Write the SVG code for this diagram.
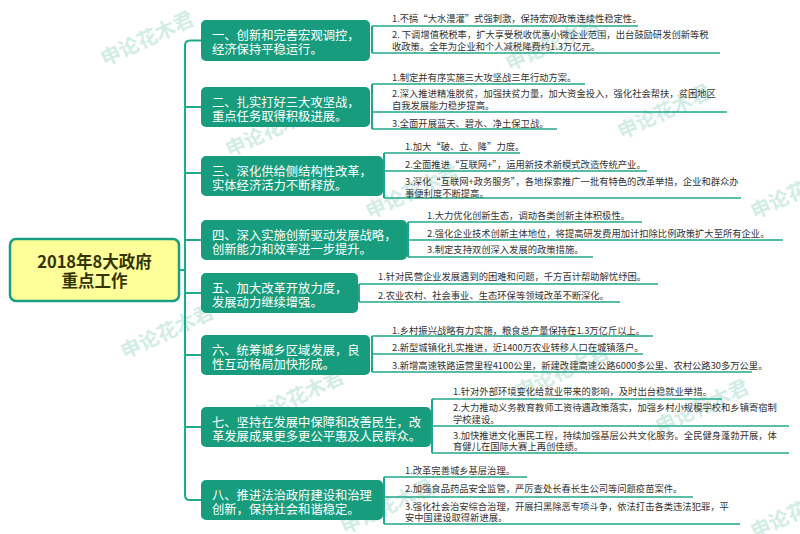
<svg xmlns="http://www.w3.org/2000/svg" width="800" height="534" viewBox="0 0 800 534">
<style>
.wm{font-family:"Noto Sans CJK SC","Noto Sans",sans-serif;font-size:20px;font-weight:bold;fill:#7fcdb8;opacity:0.35}
.node rect{fill:#179d7e}
.node text{font-family:"Noto Sans CJK SC","Noto Sans",sans-serif;font-size:12.3px;fill:#ffffff}
.root rect{fill:#ffff99;stroke:#1a9e80;stroke-width:2.5}
.root text{font-family:"Noto Sans CJK SC","Noto Sans",sans-serif;font-size:16.5px;font-weight:bold;fill:#333300;text-anchor:middle}
.leaf text{font-family:"Noto Sans CJK SC","Noto Sans",sans-serif;font-size:9.3px;fill:#333333}
.conn path,.conn line{fill:none;stroke:#22a88a;stroke-width:2}
.ul{fill:none;stroke:#22a88a;stroke-width:1.6}
</style>
<rect width="800" height="534" fill="#ffffff"/>
<g id="watermarks">
<text class="wm" transform="translate(150,45) rotate(-25)" text-anchor="middle">申论花木君</text>
<text class="wm" transform="translate(555,50) rotate(-25)" text-anchor="middle">申论花木君</text>
<text class="wm" transform="translate(667,118) rotate(-25)" text-anchor="middle">申论花木君</text>
<text class="wm" transform="translate(275,136) rotate(-25)" text-anchor="middle">申论花木君</text>
<text class="wm" transform="translate(415,198) rotate(-25)" text-anchor="middle">申论花木君</text>
<text class="wm" transform="translate(800,198) rotate(-25)" text-anchor="middle">申论花木君</text>
<text class="wm" transform="translate(170,338) rotate(-25)" text-anchor="middle">申论花木君</text>
<text class="wm" transform="translate(300,403) rotate(-25)" text-anchor="middle">申论花木君</text>
<text class="wm" transform="translate(565,378) rotate(-25)" text-anchor="middle">申论花木君</text>
<text class="wm" transform="translate(705,413) rotate(-25)" text-anchor="middle">申论花木君</text>
<text class="wm" transform="translate(390,513) rotate(-25)" text-anchor="middle">申论花木君</text>
<text class="wm" transform="translate(800,518) rotate(-25)" text-anchor="middle">申论花木君</text>
</g>
<g id="connectors" class="conn">
<line x1="179" y1="270" x2="185" y2="270"/>
<path d="M201,40.5 H190 Q185,40.5 185,45.5 V495 Q185,500 190,500 H201"/>
<line x1="185" y1="107" x2="201" y2="107"/>
<line x1="185" y1="173" x2="201" y2="173"/>
<line x1="185" y1="240" x2="201" y2="240"/>
<line x1="185" y1="293" x2="201" y2="293"/>
<line x1="185" y1="355" x2="201" y2="355"/>
<line x1="185" y1="427" x2="201" y2="427"/>
<line x1="372" y1="26" x2="372" y2="53"/>
<line x1="372" y1="84" x2="372" y2="129"/>
<line x1="384" y1="153" x2="384" y2="198"/>
<line x1="408" y1="222" x2="408" y2="257"/>
<line x1="359" y1="284" x2="359" y2="302"/>
<line x1="372" y1="336" x2="372" y2="372"/>
<line x1="432" y1="399" x2="432" y2="453"/>
<line x1="384" y1="477" x2="384" y2="524"/>
</g>
<g id="root" class="root">
<rect x="10" y="239" width="169" height="62" rx="6"/>
<text x="94.5" y="268">2018年8大政府</text>
<text x="94.5" y="287">重点工作</text>
</g>
<g id="n1" class="node"><rect x="201" y="20" width="169" height="41" rx="5"/><text x="212" y="39.5">一、创新和完善宏观调控，</text><text x="212" y="53.5">经济保持平稳运行。</text></g>
<g id="n2" class="node"><rect x="201" y="87" width="169" height="40" rx="5"/><text x="212" y="106.5">二、扎实打好三大攻坚战，</text><text x="212" y="120.5">重点任务取得积极进展。</text></g>
<g id="n3" class="node"><rect x="201" y="156" width="182" height="40" rx="5"/><text x="212" y="175.5">三、深化供给侧结构性改革，</text><text x="212" y="189.5">实体经济活力不断释放。</text></g>
<g id="n4" class="node"><rect x="201" y="220" width="206" height="40" rx="5"/><text x="212" y="239.5">四、深入实施创新驱动发展战略，</text><text x="212" y="253.5">创新能力和效率进一步提升。</text></g>
<g id="n5" class="node"><rect x="201" y="273" width="157" height="40" rx="5"/><text x="212" y="292.5">五、加大改革开放力度，</text><text x="212" y="306.5">发展动力继续增强。</text></g>
<g id="n6" class="node"><rect x="201" y="335" width="169" height="40" rx="5"/><text x="212" y="354.5">六、统筹城乡区域发展，良</text><text x="212" y="368.5">性互动格局加快形成。</text></g>
<g id="n7" class="node"><rect x="201" y="407" width="230" height="40" rx="5"/><text x="212" y="426.5">七、坚持在发展中保障和改善民生，改</text><text x="212" y="440.5">革发展成果更多更公平惠及人民群众。</text></g>
<g id="n8" class="node"><rect x="201" y="480" width="182" height="40" rx="5"/><text x="212" y="499.5">八、推进法治政府建设和治理</text><text x="212" y="513.5">创新，保持社会和谐稳定。</text></g>
<g id="leaves1" class="leaf">
<line class="ul" x1="372" y1="26" x2="638" y2="26"/><text x="392" y="21.5">1.不搞“大水漫灌”式强刺激，保持宏观政策连续性稳定性。</text>
<line class="ul" x1="372" y1="53" x2="720" y2="53"/><text x="392" y="38">2. 下调增值税税率，扩大享受税收优惠小微企业范围，出台鼓励研发创新等税</text><text x="392" y="49.5">收政策。全年为企业和个人减税降费约1.3万亿元。</text>
</g>
<g id="leaves2" class="leaf">
<line class="ul" x1="372" y1="84" x2="585" y2="84"/><text x="392" y="80.5">1.制定并有序实施三大攻坚战三年行动方案。</text>
<line class="ul" x1="372" y1="112" x2="727" y2="112"/><text x="392" y="97">2.深入推进精准脱贫，加强扶贫力量，加大资金投入，强化社会帮扶，贫困地区</text><text x="392" y="108.5">自我发展能力稳步提高。</text>
<line class="ul" x1="372" y1="129" x2="557" y2="129"/><text x="392" y="126.5">3.全面开展蓝天、碧水、净土保卫战。</text>
</g>
<g id="leaves3" class="leaf">
<line class="ul" x1="384" y1="153" x2="520" y2="153"/><text x="405" y="149.5">1.加大“破、立、降”力度。</text>
<line class="ul" x1="384" y1="171" x2="647" y2="171"/><text x="405" y="167.5">2.全面推进“互联网+”，运用新技术新模式改造传统产业。</text>
<line class="ul" x1="384" y1="198" x2="741" y2="198"/><text x="405" y="185">3.深化“互联网+政务服务”，各地探索推广一批有特色的改革举措，企业和群众办</text><text x="405" y="196.5">事便利度不断提高。</text>
</g>
<g id="leaves4" class="leaf">
<line class="ul" x1="408" y1="222" x2="642" y2="222"/><text x="427" y="218.5">1.大力优化创新生态，调动各类创新主体积极性。</text>
<line class="ul" x1="408" y1="240" x2="783" y2="240"/><text x="427" y="236.5">2.强化企业技术创新主体地位，将提高研发费用加计扣除比例政策扩大至所有企业。</text>
<line class="ul" x1="408" y1="257" x2="593" y2="257"/><text x="427" y="253">3.制定支持双创深入发展的政策措施。</text>
</g>
<g id="leaves5" class="leaf">
<line class="ul" x1="359" y1="284" x2="658" y2="284"/><text x="378" y="279.5">1.针对民营企业发展遇到的困难和问题，千方百计帮助解忧纾困。</text>
<line class="ul" x1="359" y1="302" x2="620" y2="302"/><text x="378" y="298.5">2.农业农村、社会事业、生态环保等领域改革不断深化。</text>
</g>
<g id="leaves6" class="leaf">
<line class="ul" x1="372" y1="336" x2="653" y2="336"/><text x="392" y="333.5">1.乡村振兴战略有力实施，粮食总产量保持在1.3万亿斤以上。</text>
<line class="ul" x1="372" y1="354" x2="643" y2="354"/><text x="392" y="350.5">2.新型城镇化扎实推进，近1400万农业转移人口在城镇落户。</text>
<line class="ul" x1="372" y1="372" x2="752" y2="372"/><text x="392" y="368.5">3.新增高速铁路运营里程4100公里，新建改建高速公路6000多公里、农村公路30多万公里。</text>
</g>
<g id="leaves7" class="leaf">
<line class="ul" x1="432" y1="399" x2="722" y2="399"/><text x="453" y="394.5">1.针对外部环境变化给就业带来的影响，及时出台稳就业举措。</text>
<line class="ul" x1="432" y1="426" x2="789" y2="426"/><text x="453" y="411">2.大力推动义务教育教师工资待遇政策落实，加强乡村小规模学校和乡镇寄宿制</text><text x="453" y="422.5">学校建设。</text>
<line class="ul" x1="432" y1="453" x2="789" y2="453"/><text x="453" y="438.5">3.加快推进文化惠民工程，持续加强基层公共文化服务。全民健身蓬勃开展，体</text><text x="453" y="450">育健儿在国际大赛上再创佳绩。</text>
</g>
<g id="leaves8" class="leaf">
<line class="ul" x1="384" y1="477" x2="527" y2="477"/><text x="405" y="473.5">1.改革完善城乡基层治理。</text>
<line class="ul" x1="384" y1="497" x2="693" y2="497"/><text x="405" y="491.5">2.加强食品药品安全监管，严厉查处长春长生公司等问题疫苗案件。</text>
<line class="ul" x1="384" y1="524" x2="740" y2="524"/><text x="405" y="509.5">3.强化社会治安综合治理，开展扫黑除恶专项斗争，依法打击各类违法犯罪，平</text><text x="405" y="521">安中国建设取得新进展。</text>
</g>
</svg>
